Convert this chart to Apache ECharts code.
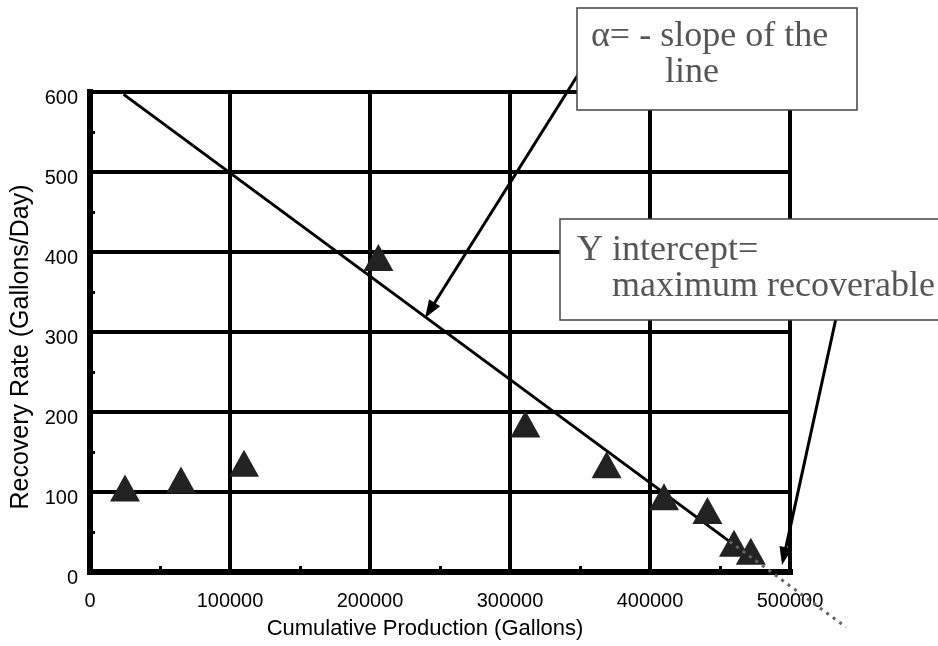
<!DOCTYPE html>
<html>
<head>
<meta charset="utf-8">
<script src="https://cdn.jsdelivr.net/npm/echarts@6/dist/echarts.min.js"></script>
<style>
  html, body { margin: 0; padding: 0; background: #ffffff; }
  #chart { width: 938px; height: 646px; }
</style>
</head>
<body>
<div id="chart"></div>
<script>
// Measured recovery points
const cumulativeGallons = [25000, 65000, 110000, 206000, 311000, 369000, 410000, 441000, 460000, 472000];
const recoveryRate      = [105, 115, 136, 393, 185, 134, 94, 77, 36, 26];

// Fitted decline line (solid) and its extension past the x axis (dotted)
const fitX = [24000, 457000];
const fitY = [597, 38];
const extX = [457000, 540000];
const extY = [38, -69];

// Axis ranges
const xMin = 0, xMax = 500000, xStep = 100000;
const yMin = 0, yMax = 600, yStep = 100;

// Callout texts and the points their arrows indicate
const slopeNote = ['\u03B1= - slope of the', 'line'];
const interceptNote = ['Y intercept=', 'maximum recoverable'];
const slopeTarget = [239300, 317.5];
const interceptTarget = [494300, 8.75];

const pairs = (xs, ys) => xs.map((x, i) => [x, ys[i]]);

const chart = echarts.init(document.getElementById('chart'), null, { renderer: 'canvas' });

const sans = 'Liberation Sans, Arial, sans-serif';
const serif = 'Liberation Serif, Times New Roman, serif';

chart.setOption({
  animation: false,
  backgroundColor: '#ffffff',
  grid: { left: 90, right: 148, top: 92, bottom: 74, containLabel: false },
  xAxis: {
    type: 'value',
    min: xMin, max: xMax, interval: xStep,
    name: 'Cumulative Production (Gallons)',
    nameLocation: 'middle',
    nameGap: 46,
    nameTextStyle: { fontFamily: sans, fontSize: 22, color: '#000', padding: [0, 30, 0, 0] },
    axisLine: { show: true, onZero: false, lineStyle: { color: '#000', width: 6, cap: 'square' } },
    axisTick: { show: false, inside: true },
    minorTick: { show: true, splitNumber: 2, length: 6, lineStyle: { color: '#000', width: 3 } },
    axisLabel: { fontFamily: sans, fontSize: 20, color: '#000', margin: 19, formatter: v => String(v) },
    splitLine: { show: true, lineStyle: { color: '#000', width: 4 } }
  },
  yAxis: {
    type: 'value',
    min: yMin, max: yMax, interval: yStep,
    name: 'Recovery Rate (Gallons/Day)',
    nameLocation: 'middle',
    nameGap: 56,
    nameTextStyle: { fontFamily: sans, fontSize: 25, color: '#000', padding: [0, 30, 0, 0] },
    axisLine: { show: true, onZero: false, lineStyle: { color: '#000', width: 6, cap: 'square' } },
    axisTick: { show: false, inside: true },
    minorTick: { show: true, splitNumber: 2, length: 5, lineStyle: { color: '#000', width: 3 } },
    axisLabel: {
      fontFamily: sans, fontSize: 20, color: '#000', margin: 12,
      verticalAlign: 'top', lineHeight: 12,
      formatter: v => String(v)
    },
    splitLine: { show: true, lineStyle: { color: '#000', width: 4 } }
  },
  series: [
    {
      name: 'fit',
      type: 'line',
      data: pairs(fitX, fitY),
      symbol: 'none',
      z: 3,
      lineStyle: { color: '#000', width: 3 }
    },
    {
      name: 'recovery',
      type: 'scatter',
      data: pairs(cumulativeGallons, recoveryRate),
      symbol: 'triangle',
      symbolSize: [30, 27],
      z: 4,
      itemStyle: { color: '#222222', opacity: 1 }
    }
  ]
});

const toPx = p => chart.convertToPixel({ gridIndex: 0 }, p);

// Arrow from a pixel start point to a point given in data coordinates
function arrow(from, targetData) {
  const tip = toPx(targetData);
  const dx = tip[0] - from[0], dy = tip[1] - from[1];
  const len = Math.hypot(dx, dy);
  const ux = dx / len, uy = dy / len;
  const headLen = 18, headHalf = 6.5;
  const bx = tip[0] - ux * headLen, by = tip[1] - uy * headLen;
  return [
    {
      type: 'line', z: 90,
      shape: { x1: from[0], y1: from[1], x2: bx + ux * 2, y2: by + uy * 2 },
      style: { stroke: '#000', lineWidth: 3 }
    },
    {
      type: 'polygon', z: 90,
      shape: { points: [tip, [bx - uy * headHalf, by + ux * headHalf], [bx + uy * headHalf, by - ux * headHalf]] },
      style: { fill: '#000' }
    }
  ];
}

// Callout text placed by its baseline
function noteText(str, x, baseline) {
  return {
    type: 'text', z: 101,
    x: x, y: baseline - 29,
    style: { text: str, font: '36px ' + serif, fill: '#555555', verticalAlign: 'top', align: 'left' }
  };
}

// Dotted extension of the fitted line, drawn beyond the plot area
const extension = {
  type: 'polyline', z: 50,
  shape: { points: pairs(extX, extY).map(toPx) },
  style: { stroke: '#666666', lineWidth: 3, lineDash: [3, 5], fill: null }
};

chart.setOption({
  graphic: [].concat(
    [extension],
    arrow([603, 35], slopeTarget),
    arrow([840, 300], interceptTarget),
    [
      { type: 'rect', z: 100, shape: { x: 577, y: 8, width: 280, height: 102 },
        style: { fill: '#fff', stroke: '#444', lineWidth: 1.5 } },
      noteText(slopeNote[0], 591, 48),
      noteText(slopeNote[1], 665, 84),
      { type: 'rect', z: 100, shape: { x: 560, y: 219, width: 400, height: 101 },
        style: { fill: '#fff', stroke: '#444', lineWidth: 1.5 } },
      noteText(interceptNote[0], 577, 262),
      noteText(interceptNote[1], 612, 298)
    ]
  )
});
</script>
</body>
</html>
